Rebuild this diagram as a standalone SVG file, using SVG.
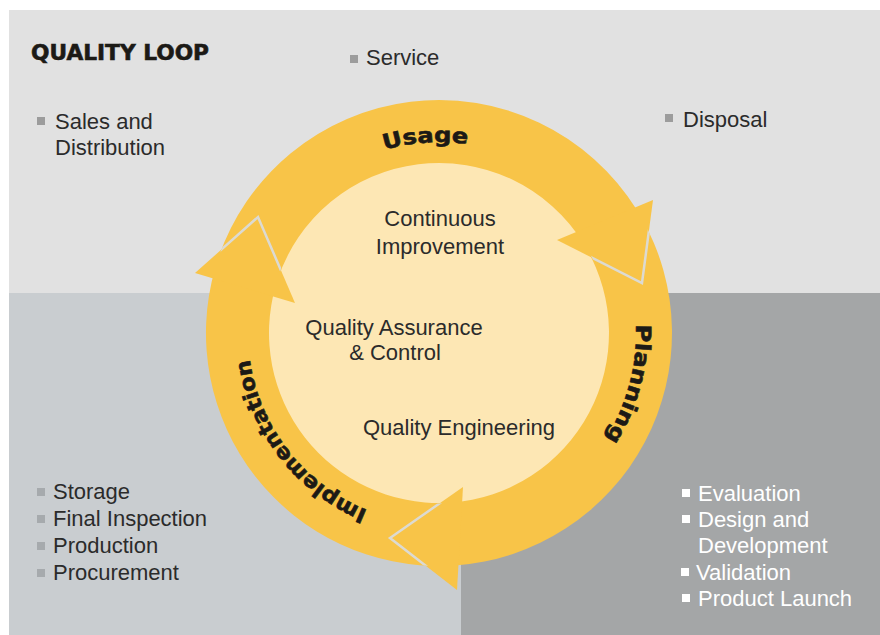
<svg xmlns="http://www.w3.org/2000/svg" width="880" height="635" viewBox="0 0 880 635">
<style>
.t{font-family:"Liberation Sans",Arial,sans-serif;font-size:22px;fill:#2b2b2b}
.w{font-family:"Liberation Sans",Arial,sans-serif;font-size:22px;fill:#ffffff}
.h{font-family:"DejaVu Sans","Liberation Sans",sans-serif;font-weight:bold;font-size:21px;fill:#1c1a16;stroke:#1c1a16;stroke-width:0.6}
.c{text-anchor:middle}
.ring{fill:#f8c448}
.sep{fill:none;stroke:#dcdad2;stroke-width:2.5;stroke-linejoin:miter}
.bg{fill:#9c9c9c}
.bl{fill:#a6aaad}
.bw{fill:#ffffff}
</style>
<defs>
<clipPath id="annulus">
<path clip-rule="evenodd" d="M 672 333 A 233 233 0 1 1 206 333 A 233 233 0 1 1 672 333 Z M 609.5 333 A 170.5 170.5 0 1 0 268.5 333 A 170.5 170.5 0 1 0 609.5 333 Z"/>
</clipPath>
<path id="pUsage" d="M 267.4 249.3 A 191 191 0 0 1 597.3 226.2"/>
<path id="pPlanning" d="M 578.3 193.7 A 197 197 0 0 1 490 523.3"/>
<path id="pImpl" d="M 465.6 522.1 A 191 191 0 0 1 261.9 261.5"/>
</defs>

<g id="background">
<rect x="0" y="0" width="880" height="635" fill="#ffffff"/>
<rect x="9" y="10" width="871" height="283" fill="#e1e1e1"/>
<rect x="9" y="293" width="452" height="342" fill="#c9cdd0"/>
<rect x="461" y="293" width="419" height="342" fill="#a4a6a7"/>
</g>

<g id="title">
<text class="h" x="31" y="60" font-size="22" textLength="178" lengthAdjust="spacingAndGlyphs">QUALITY LOOP</text>
</g>

<g id="core">
<circle cx="439" cy="333" r="171" fill="#fde7b4"/>
</g>

<g id="connectors">
<path id="usage-body" class="ring" d="M 217.4 261.0 A 233 233 0 0 1 636.6 209.5 L 583.2 242.9 A 170 170 0 0 0 277.3 280.5 Z"/>
<path id="planning-body" class="ring" d="M 640.8 216.5 A 233 233 0 0 1 455.3 565.4 L 450.9 502.6 A 170 170 0 0 0 586.2 248 Z"/>
<path id="implementation-body" class="ring" d="M 447.1 565.9 A 233 233 0 0 1 215.0 268.8 L 275.6 286.1 A 170 170 0 0 0 444.9 502.9 Z"/>
<polygon id="usage-head" class="ring" points="557,240 653,200 642,283"/>
<polygon id="planning-head" class="ring" points="463,487 457,590 390,538"/>
<polygon id="implementation-head" class="ring" points="295,303 195,273 258,217"/>
<g clip-path="url(#annulus)">
<polyline class="sep" points="557,240 642,283 653,200"/>
<polyline class="sep" points="463,487 390,538 457,590"/>
<polyline class="sep" points="295,303 258,217 195,273"/>
</g>
</g>

<g id="label-usage">
<text class="h"><textPath href="#pUsage" startOffset="50%" text-anchor="middle" textLength="84" lengthAdjust="spacingAndGlyphs">Usage</textPath></text>
</g>
<g id="label-planning">
<text class="h"><textPath href="#pPlanning" startOffset="50%" text-anchor="middle" textLength="120" lengthAdjust="spacingAndGlyphs">Planning</textPath></text>
</g>
<g id="label-implementation">
<text class="h"><textPath href="#pImpl" startOffset="50%" text-anchor="middle" textLength="200" lengthAdjust="spacingAndGlyphs">Implementation</textPath></text>
</g>

<g id="continuous-improvement">
<text class="t c" x="440" y="226">Continuous</text>
<text class="t c" x="440" y="254">Improvement</text>
</g>
<g id="quality-assurance">
<text class="t c" x="394" y="335">Quality Assurance</text>
<text class="t c" x="395" y="360">&amp; Control</text>
</g>
<g id="quality-engineering">
<text class="t" x="363" y="435">Quality Engineering</text>
</g>

<g id="service">
<rect class="bg" x="350" y="55" width="8" height="8"/>
<text class="t" x="366" y="65">Service</text>
</g>
<g id="sales">
<rect class="bg" x="37" y="117" width="8" height="8"/>
<text class="t" x="55" y="129">Sales and</text>
<text class="t" x="55" y="155">Distribution</text>
</g>
<g id="disposal">
<rect class="bg" x="665" y="114" width="8" height="8"/>
<text class="t" x="683" y="127">Disposal</text>
</g>

<g id="implementation-list">
<rect class="bl" x="37" y="488" width="8" height="8"/>
<text class="t" x="53" y="499">Storage</text>
<rect class="bl" x="37" y="515" width="8" height="8"/>
<text class="t" x="53" y="526">Final Inspection</text>
<rect class="bl" x="37" y="542" width="8" height="8"/>
<text class="t" x="53" y="553">Production</text>
<rect class="bl" x="37" y="569" width="8" height="8"/>
<text class="t" x="53" y="580">Procurement</text>
</g>

<g id="planning-list">
<rect class="bw" x="682" y="489" width="8" height="8"/>
<text class="w" x="698" y="501">Evaluation</text>
<rect class="bw" x="682" y="515" width="8" height="8"/>
<text class="w" x="698" y="527">Design and</text>
<text class="w" x="698" y="553">Development</text>
<rect class="bw" x="681" y="568" width="8" height="8"/>
<text class="w" x="696" y="580">Validation</text>
<rect class="bw" x="682" y="594" width="8" height="8"/>
<text class="w" x="698" y="606">Product Launch</text>
</g>
</svg>
